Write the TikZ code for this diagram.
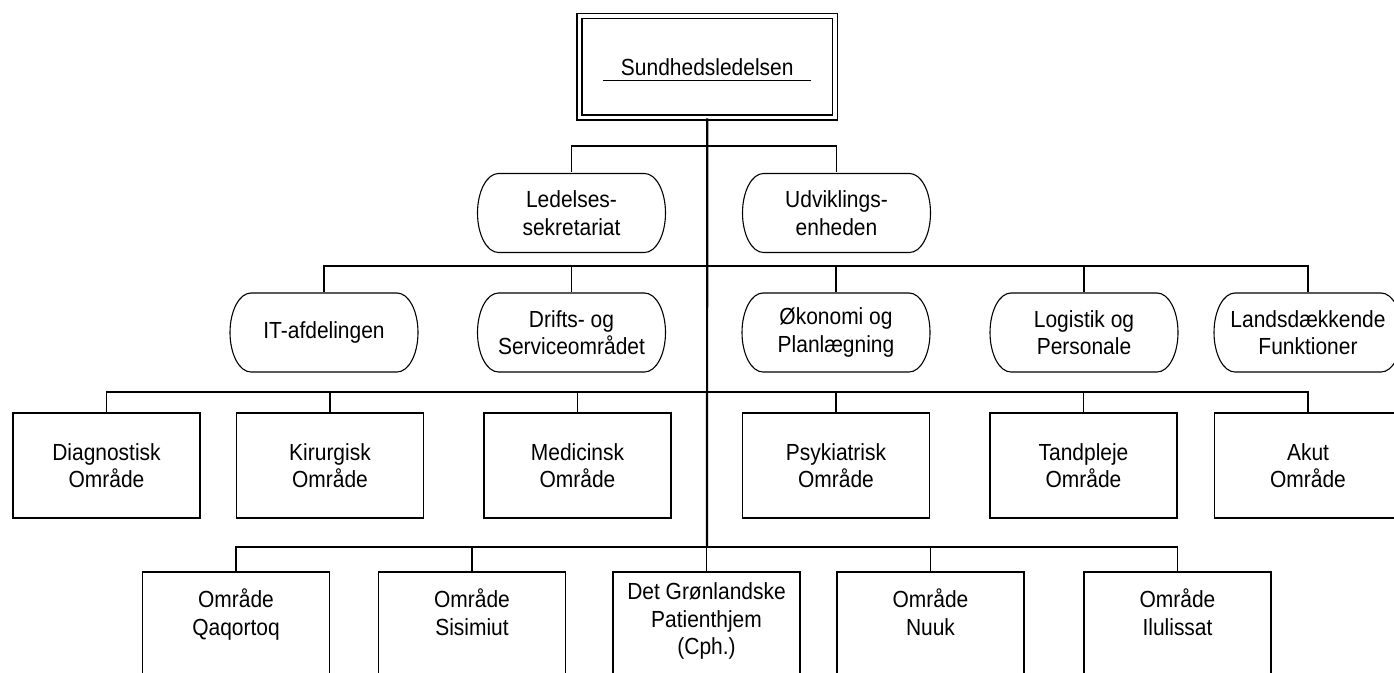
\documentclass[tikz,border=0pt]{standalone}
\usepackage{fontspec}
\setmainfont{Liberation Sans}[FakeStretch=0.9]
\begin{document}
\begin{tikzpicture}[x=1pt,y=-1pt,
  every node/.style={font=\fontsize{23.3}{27.5}\selectfont, align=center, inner sep=0pt},
  stadium/.style={minimum width=190pt, minimum height=81pt,
    path picture={
      \draw[line width=1.1pt]
        ([xshift=22pt,yshift=-1pt]path picture bounding box.north west) --
        ([xshift=-22pt,yshift=-1pt]path picture bounding box.north east)
        arc[start angle=90,end angle=-90,x radius=21pt,y radius=39.5pt] --
        ([xshift=22pt,yshift=1pt]path picture bounding box.south west)
        arc[start angle=270,end angle=90,x radius=21pt,y radius=39.5pt] -- cycle;
    }},
  orgbox/.style={draw, line width=1.8pt, minimum width=187pt, minimum height=105pt},
  conn/.style={line width=1.4pt},
  trunkline/.style={line width=2.2pt}]
\useasboundingbox (0,0) rectangle (1394,672);
\clip (0,0) rectangle (1394,672);

% top
\node[draw, double, double distance=3.5pt, line width=1.5pt,
      minimum width=255.5pt, minimum height=101.5pt] (top) at (707.25,66.75) {Sundhedsledelsen};
\draw[line width=1.5pt] ([xshift=-104.25pt,yshift=-13.75pt]top.center) -- ([xshift=103.75pt,yshift=-13.75pt]top.center);

% level 1
\node[stadium] (led) at (571.5,213) {Ledelses-\\sekretariat};
\node[stadium] (udv) at (836.5,213) {Udviklings-\\enheden};

% level 2
\node[stadium] (it) at (324,332.5) {IT-afdelingen};
\node[stadium] (dri) at (571.5,332.5) {Drifts- og\\Serviceområdet};
\node[stadium] (oko) at (836,332.5) {Økonomi og\\Planlægning};
\node[stadium] (log) at (1084,332.5) {Logistik og\\Personale};
\node[stadium] (lan) at (1308,332.5) {Landsdækkende\\Funktioner};

% level 3
\node[orgbox] (dia) at (106.5,465.5) {Diagnostisk\\Område};
\node[orgbox] (kir) at (330,465.5) {Kirurgisk\\Område};
\node[orgbox] (med) at (577.5,465.5) {Medicinsk\\Område};
\node[orgbox] (psy) at (836,465.5) {Psykiatrisk\\Område};
\node[orgbox] (tan) at (1083.5,465.5) {Tandpleje\\Område};
\node[orgbox] (aku) at (1308,465.5) {Akut\\Område};

% level 4 (boxes run past the lower edge)
\node[orgbox] (qaq) at (236,624.5) {};
\node[orgbox] (sis) at (472,624.5) {};
\node[orgbox] (grp) at (706.5,624.5) {};
\node[orgbox] (nuu) at (930.5,624.5) {};
\node[orgbox] (ilu) at (1177.5,624.5) {};
\node (qaqt) at ([yshift=-45pt]qaq.north) {Område\\Qaqortoq\strut};
\node (sist) at ([yshift=-45pt]sis.north) {Område\\Sisimiut\strut};
\node (grpt) at ([yshift=-52pt]grp.north) {Det Grønlandske\\Patienthjem\\(Cph.)\strut};
\node (nuut) at ([yshift=-45pt]nuu.north) {Område\\Nuuk\strut};
\node (ilut) at ([yshift=-45pt]ilu.north) {Område\\Ilulissat\strut};

% trunk
\coordinate (b1) at (707,146);
\coordinate (b2) at (707,266);
\coordinate (b3) at (707,392);
\coordinate (b4) at (707,547);
\draw[trunkline] (top.south) -- (b4);

\foreach \n in {led,udv} \draw[conn] (b1) -| (\n.north);
\foreach \n in {it,dri,oko,log,lan} \draw[conn] (b2) -| (\n.north);
\foreach \n in {dia,kir,med,psy,tan,aku} \draw[conn] (b3) -| (\n.north);
\foreach \n in {qaq,sis,grp,nuu,ilu} \draw[conn] (b4) -| (\n.north);
\end{tikzpicture}
\end{document}
